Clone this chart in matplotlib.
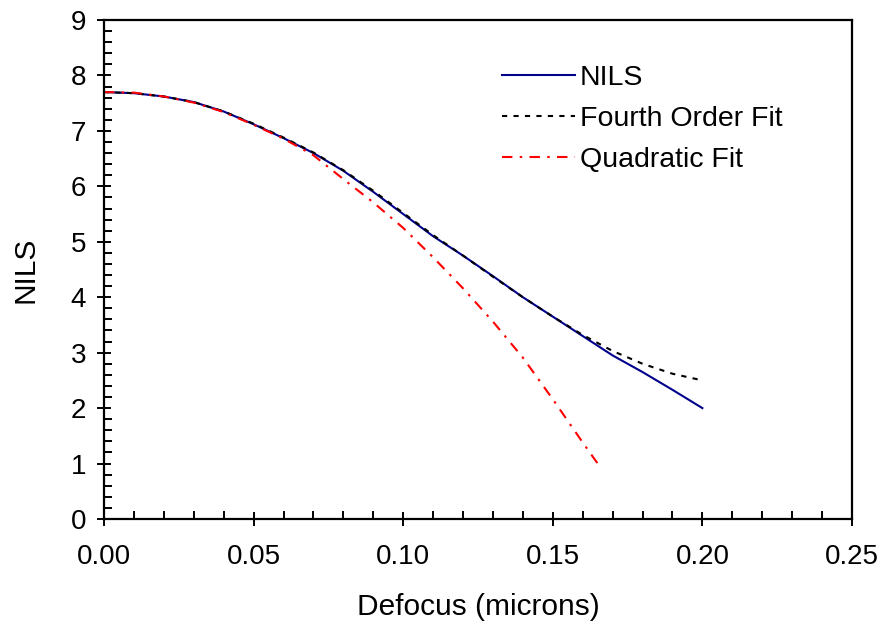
import matplotlib
matplotlib.use("Agg")
import matplotlib.pyplot as plt
from matplotlib.ticker import MultipleLocator, FormatStrFormatter

plt.rcParams['font.family'] = ['Liberation Sans', 'DejaVu Sans']

# Data
defocus = [0.00, 0.01, 0.02, 0.03, 0.04, 0.05, 0.06, 0.07, 0.08, 0.09, 0.10,
           0.11, 0.12, 0.13, 0.14, 0.15, 0.16, 0.17, 0.18, 0.19, 0.20]
nils = [7.70, 7.68, 7.62, 7.52, 7.35, 7.12, 6.87, 6.60, 6.28, 5.90, 5.50,
        5.10, 4.75, 4.38, 4.00, 3.65, 3.30, 2.95, 2.65, 2.33, 2.00]
fourth_fit = [7.70, 7.68, 7.62, 7.52, 7.35, 7.13, 6.88, 6.61, 6.29, 5.92, 5.52,
              5.12, 4.75, 4.37, 4.00, 3.65, 3.32, 3.03, 2.80, 2.62, 2.50]
quad_x = [0.00, 0.01, 0.02, 0.03, 0.04, 0.05, 0.06, 0.07, 0.08, 0.09, 0.10,
          0.11, 0.12, 0.13, 0.14, 0.15, 0.16, 0.165]
quad_fit = [7.70, 7.69, 7.62, 7.51, 7.34, 7.11, 6.86, 6.56, 6.13, 5.71, 5.25,
            4.72, 4.16, 3.56, 2.91, 2.16, 1.38, 1.00]

fig = plt.figure(figsize=(8.84, 6.28), dpi=100)
ax = fig.add_axes([104/884, 1-519/628, (852-104)/884, (519-20)/628])

ax.plot(defocus, nils, color='#00008B', lw=1.5, label='NILS')
ax.plot(defocus, fourth_fit, color='black', lw=1.5, ls=(0, (2.5, 3)), label='Fourth Order Fit')
ax.plot(quad_x, quad_fit, color='red', lw=1.5, ls=(0, (5, 3.5, 1.2, 3.5)), label='Quadratic Fit')

ax.set_xlim(0, 0.25)
ax.set_ylim(0, 9)
ax.xaxis.set_major_locator(MultipleLocator(0.05))
ax.xaxis.set_minor_locator(MultipleLocator(0.01))
ax.yaxis.set_major_locator(MultipleLocator(1))
ax.yaxis.set_minor_locator(MultipleLocator(0.2))
ax.xaxis.set_major_formatter(FormatStrFormatter('%.2f'))

ax.tick_params(which='major', direction='inout', length=10, width=1.4, labelsize=20,
               top=False, right=False)
ax.tick_params(which='minor', direction='in', length=5.5, width=1.4, top=False, right=False)
ax.tick_params(axis='x', which='major', pad=13)
ax.tick_params(axis='y', which='major', pad=8)
for s in ax.spines.values():
    s.set_linewidth(1.6)

ax.set_xlabel('Defocus (microns)', fontsize=21.5, labelpad=16.5)
ax.set_ylabel('NILS', fontsize=21.5, labelpad=22)

leg = ax.legend(loc='upper left', bbox_to_anchor=((502-104)/748, (519-65)/499),
                frameon=False, fontsize=20.5, handlelength=2.55, handletextpad=0.18,
                labelspacing=0.53, borderpad=0, borderaxespad=0)

fig.savefig('out.png', dpi=100)
